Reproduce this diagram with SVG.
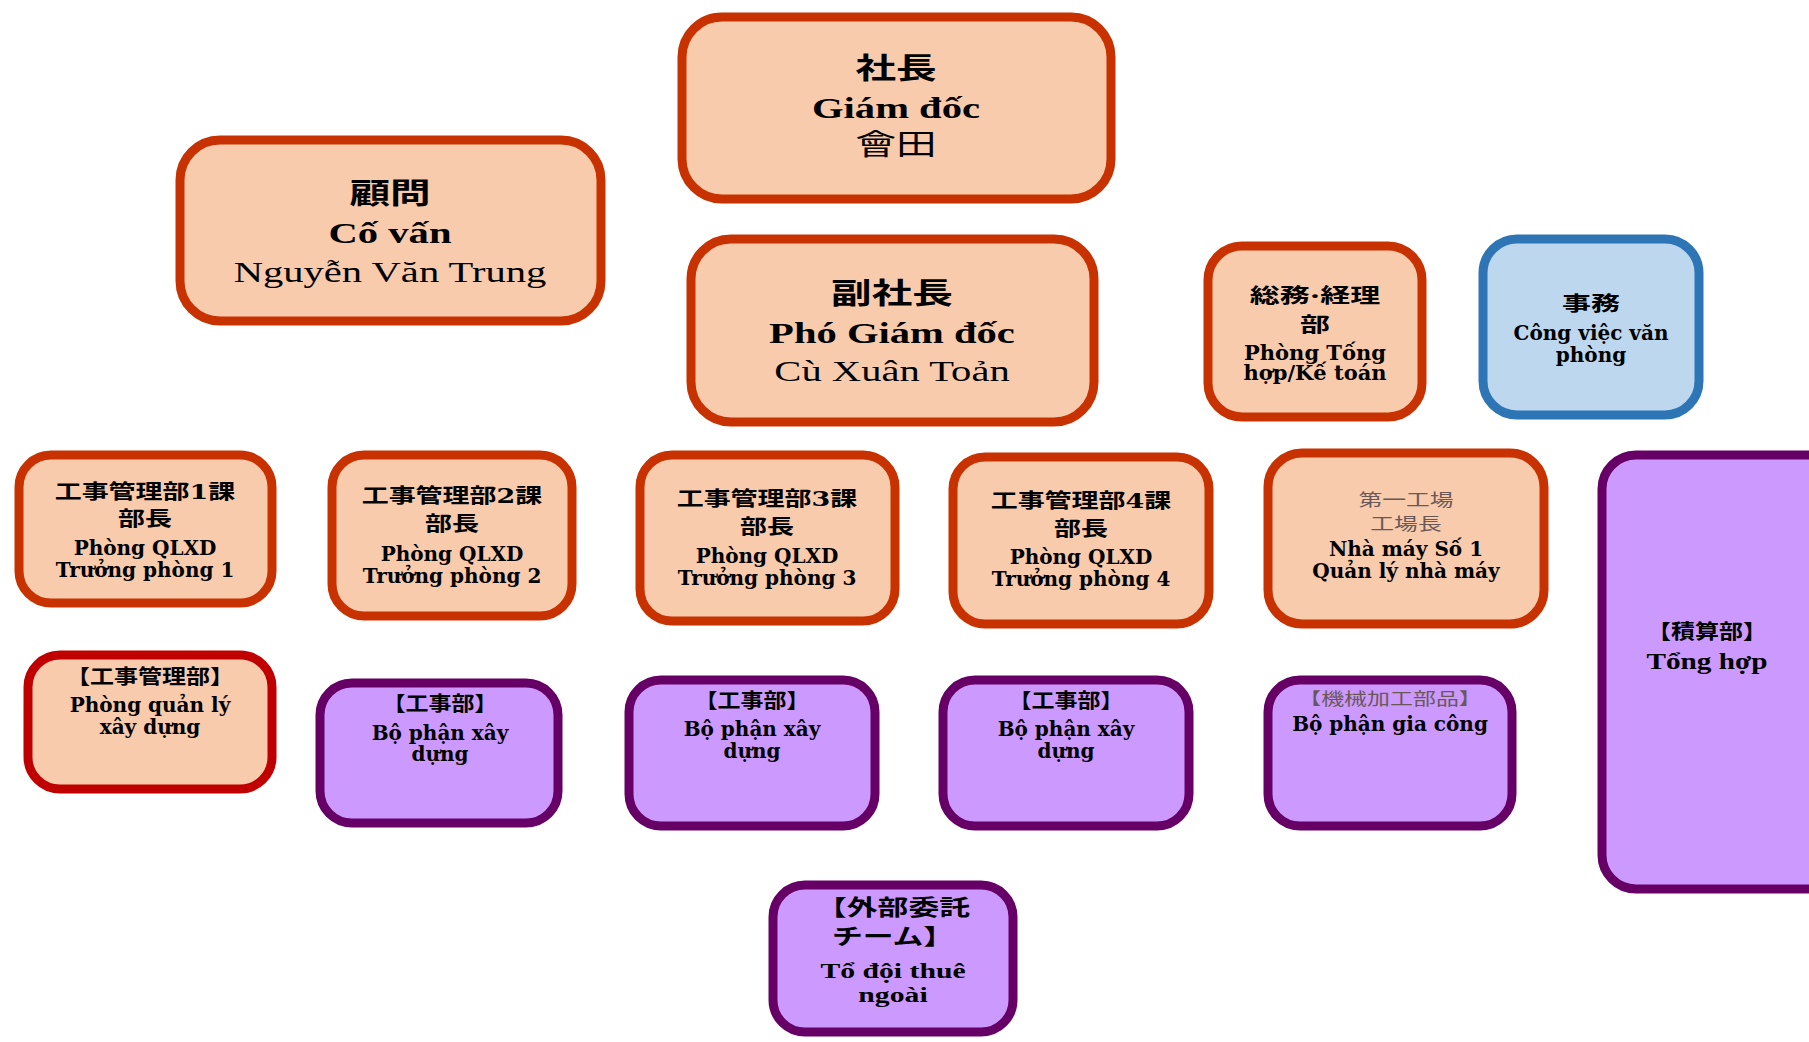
<svg xmlns="http://www.w3.org/2000/svg" width="1809" height="1042" viewBox="0 0 1809 1042">
<style>
.o rect{fill:#F8CBAD;stroke:#C83200;stroke-width:9}
.r rect{fill:#F8CBAD;stroke:#C00000;stroke-width:9}
.b rect{fill:#BDD7EE;stroke:#2E75B6;stroke-width:9}
.p rect{fill:#CC99FF;stroke:#660066;stroke-width:9}
text{text-anchor:middle;fill:#000}
.L{font-family:"Liberation Serif","Noto Sans CJK JP",serif;font-weight:bold;font-size:29px}
.Lr{font-family:"Liberation Serif","Noto Sans CJK JP",serif;font-weight:normal;font-size:29px}
.S{font-family:"DejaVu Serif","Noto Sans CJK JP",serif;font-weight:bold;font-size:20px}
.G{font-family:"Noto Sans CJK JP",sans-serif;font-weight:normal;font-size:17px;fill:#6a5858}
</style>
<rect width="1809" height="1042" fill="#fff"/>
<g id="connectors"/>

<g id="president" class="o">
<rect x="682" y="17" width="429" height="182" rx="40"/>
<text class="L" transform="translate(896 79) scale(1.4 1)">社長</text>
<text class="L" transform="translate(896 118) scale(1.4 1)">Giám đốc</text>
<text class="Lr" transform="translate(896 155) scale(1.4 1)">會田</text>
</g>

<g id="advisor" class="o">
<rect x="180" y="140" width="421" height="181" rx="40"/>
<text class="L" transform="translate(390 204) scale(1.4 1)">顧問</text>
<text class="L" transform="translate(390 243) scale(1.4 1)">Cố vấn</text>
<text class="Lr" transform="translate(390 282) scale(1.4 1)">Nguyễn Văn Trung</text>
</g>

<g id="vice-president" class="o">
<rect x="691" y="239" width="403" height="183" rx="40"/>
<text class="L" transform="translate(892 304) scale(1.4 1)">副社長</text>
<text class="L" transform="translate(892 343) scale(1.4 1)">Phó Giám đốc</text>
<text class="Lr" transform="translate(892 381) scale(1.4 1)">Cù Xuân Toản</text>
</g>

<g id="general-affairs" class="o">
<rect x="1208" y="246" width="214" height="171" rx="34"/>
<text class="S" transform="translate(1315 303) scale(1.5 1)">総務·経理</text>
<text class="S" transform="translate(1315 332) scale(1.5 1)">部</text>
<text class="S" transform="translate(1315 360) scale(1.05 1)">Phòng Tống</text>
<text class="S" transform="translate(1315 380) scale(1.05 1)">hợp/Kế toán</text>
</g>

<g id="office" class="b">
<rect x="1483" y="239" width="216" height="176" rx="34"/>
<text class="S" transform="translate(1591 311) scale(1.45 1)">事務</text>
<text class="S" transform="translate(1591 340)">Công việc văn</text>
<text class="S" transform="translate(1591 362)">phòng</text>
</g>

<g id="section1" class="o">
<rect x="19" y="455" width="253" height="148" rx="32"/>
<text class="S" transform="translate(145 499) scale(1.35 1)">工事管理部1課</text>
<text class="S" transform="translate(145 526) scale(1.35 1)">部長</text>
<text class="S" transform="translate(145 555)">Phòng QLXD</text>
<text class="S" transform="translate(145 577)">Trưởng phòng 1</text>
</g>

<g id="section2" class="o">
<rect x="332" y="455" width="240" height="161" rx="32"/>
<text class="S" transform="translate(452 503) scale(1.35 1)">工事管理部2課</text>
<text class="S" transform="translate(452 531) scale(1.35 1)">部長</text>
<text class="S" transform="translate(452 561)">Phòng QLXD</text>
<text class="S" transform="translate(452 583)">Trưởng phòng 2</text>
</g>

<g id="section3" class="o">
<rect x="640" y="455" width="255" height="166" rx="32"/>
<text class="S" transform="translate(767 506) scale(1.35 1)">工事管理部3課</text>
<text class="S" transform="translate(767 534) scale(1.35 1)">部長</text>
<text class="S" transform="translate(767 563)">Phòng QLXD</text>
<text class="S" transform="translate(767 585)">Trưởng phòng 3</text>
</g>

<g id="section4" class="o">
<rect x="953" y="457" width="256" height="167" rx="32"/>
<text class="S" transform="translate(1081 508) scale(1.35 1)">工事管理部4課</text>
<text class="S" transform="translate(1081 536) scale(1.35 1)">部長</text>
<text class="S" transform="translate(1081 564)">Phòng QLXD</text>
<text class="S" transform="translate(1081 586)">Trưởng phòng 4</text>
</g>

<g id="factory1" class="o">
<rect x="1268" y="453" width="276" height="171" rx="34"/>
<text class="G" transform="translate(1406 506) scale(1.4 1)">第一工場</text>
<text class="G" transform="translate(1406 530) scale(1.4 1)">工場長</text>
<text class="S" transform="translate(1406 556)">Nhà máy Số 1</text>
<text class="S" transform="translate(1406 578)">Quản lý nhà máy</text>
</g>

<g id="estimation" class="p">
<rect x="1602" y="455" width="260" height="434" rx="34"/>
<text class="S" transform="translate(1707 639) scale(1.2 1)">【積算部】</text>
<text class="L" style="font-size:24px" transform="translate(1707 669) scale(1.22 1)">Tổng hợp</text>
</g>

<g id="construction-mgmt" class="r">
<rect x="28" y="655" width="244" height="134" rx="32"/>
<text class="S" transform="translate(150 684) scale(1.2 1)">【工事管理部】</text>
<text class="S" transform="translate(150 712)">Phòng quản lý</text>
<text class="S" transform="translate(150 734)">xây dựng</text>
</g>

<g id="construction1" class="p">
<rect x="320" y="683" width="238" height="140" rx="32"/>
<text class="S" transform="translate(440 711) scale(1.15 1)">【工事部】</text>
<text class="S" transform="translate(440 740)">Bộ phận xây</text>
<text class="S" transform="translate(440 761)">dựng</text>
</g>

<g id="construction2" class="p">
<rect x="629" y="680" width="246" height="146" rx="32"/>
<text class="S" transform="translate(752 708) scale(1.15 1)">【工事部】</text>
<text class="S" transform="translate(752 736)">Bộ phận xây</text>
<text class="S" transform="translate(752 758)">dựng</text>
</g>

<g id="construction3" class="p">
<rect x="943" y="680" width="246" height="146" rx="32"/>
<text class="S" transform="translate(1066 708) scale(1.15 1)">【工事部】</text>
<text class="S" transform="translate(1066 736)">Bộ phận xây</text>
<text class="S" transform="translate(1066 758)">dựng</text>
</g>

<g id="machining" class="p">
<rect x="1268" y="680" width="244" height="146" rx="32"/>
<text class="G" transform="translate(1390 705) scale(1.35 1)">【機械加工部品】</text>
<text class="S" transform="translate(1390 731)">Bộ phận gia công</text>
</g>

<g id="outsourcing" class="p">
<rect x="773" y="885" width="240" height="147" rx="32"/>
<text class="S" style="font-size:22px" transform="translate(893 915) scale(1.4 1)">【外部委託</text>
<text class="S" style="font-size:22px" transform="translate(893 944) scale(1.4 1)">チーム】</text>
<text class="L" style="font-size:22px" transform="translate(893 978) scale(1.35 1)">Tổ đội thuê</text>
<text class="L" style="font-size:22px" transform="translate(893 1002) scale(1.35 1)">ngoài</text>
</g>
</svg>
